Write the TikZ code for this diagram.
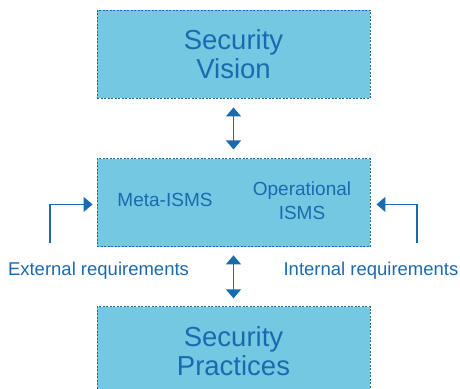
\documentclass[tikz,border=0pt]{standalone}
\usepackage{fontspec}
\setmainfont{Liberation Sans}
\usetikzlibrary{shapes,arrows.meta,positioning}
\definecolor{boxfill}{HTML}{75C8E1}
\definecolor{ink}{HTML}{1A6AB0}

\begin{document}
\begin{tikzpicture}[x=1pt,y=-1pt]
            % layered view of the ISMS
            \tikzstyle{block} = [draw=ink, dash pattern=on 2pt off 1.5pt, line width=0.9pt, fill=boxfill, rectangle, minimum width=273pt, minimum height=88pt, text=ink, align=center];
            \tikzstyle{flow} = [draw=ink, line width=1.4pt, -{Triangle[width=15pt,length=9pt]}];
            \tikzstyle{both} = [draw=ink, line width=1.4pt, {Triangle[width=15pt,length=9pt]}-{Triangle[width=15pt,length=9pt]}];
            \tikzstyle{req} = [text=ink, font=\fontsize{18.5}{22}\selectfont];

            \useasboundingbox (0,0) rectangle (460,388);
            \clip (0,0) rectangle (460,388);

            \node[block, font=\fontsize{27.5}{29}\selectfont] (vision) at (233.5,54) {Security\\Vision};
            \node[block, below=60pt of vision] (isms) {};
            \node[block, below=59pt of isms, font=\fontsize{27.5}{29}\selectfont] (practices) {Security\\Practices};

            \node[text=ink, font=\fontsize{19}{24}\selectfont] (meta) at (165,200) {Meta-ISMS};
            \node[text=ink, font=\fontsize{19}{24}\selectfont, align=center] (oper) at (302,201) {Operational\\ISMS};

            \node[req] (external) at (98.5,270.5) {External requirements};
            \node[req] (internal) at (371,270.5) {Internal requirements};

            \coordinate (extstart) at (50,243);
            \coordinate (intstart) at (417,243);

            \draw[both] ([yshift=-9pt]vision.south) -- ([yshift=9pt]isms.north);
            \draw[both] ([yshift=-8pt]isms.south) -- ([yshift=8pt]practices.north);

            \draw[flow] (extstart) |- ([xshift=-4pt,yshift=-1.5pt]isms.west);
            \draw[flow] (intstart) |- ([xshift=6pt,yshift=-1.5pt]isms.east);

        \end{tikzpicture}
\end{document}
